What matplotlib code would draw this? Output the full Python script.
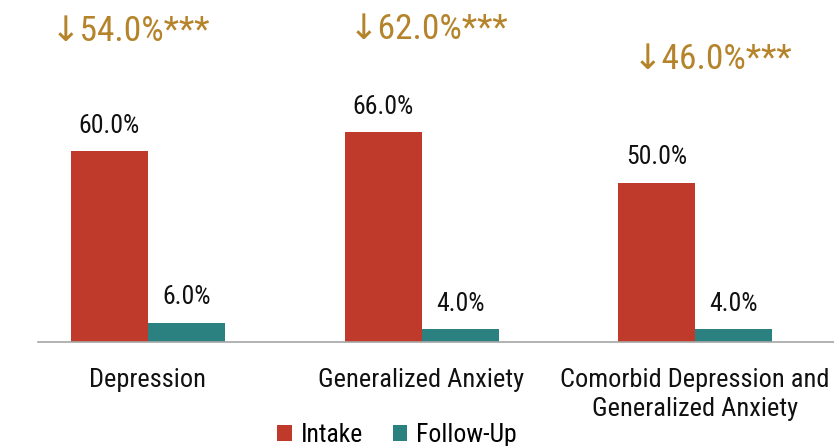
import matplotlib
matplotlib.use("Agg")
import matplotlib.pyplot as plt
from matplotlib import font_manager
import numpy as np

categories = ["Depression", "Generalized Anxiety", "Comorbid Depression and\nGeneralized Anxiety"]
intake = [60.0, 66.0, 50.0]
follow_up = [6.0, 4.0, 4.0]
change_labels = ["\u219354.0%***", "\u219362.0%***", "\u219346.0%***"]
series_names = ["Intake", "Follow-Up"]

names = {f.name for f in font_manager.fontManager.ttflist}
fam = "Roboto Condensed" if "Roboto Condensed" in names else "Roboto"
plt.rcParams['font.family'] = [fam, 'DejaVu Sans']

red = "#C03A2C"
teal = "#2B8080"
gold = "#B5832A"

fig = plt.figure(figsize=(8.34, 4.46), dpi=100)
ax = fig.add_axes([38/834, (446-342)/446, 1-38/834, 342/446])

x = np.arange(len(categories))
w = 0.2815
b1 = ax.bar(x - w/2, intake, w, color=red, label=series_names[0])
b2 = ax.bar(x + w/2, follow_up, w, color=teal, label=series_names[1])

for rect, v in zip(b1, intake):
    ax.text(rect.get_x() + rect.get_width()/2, v + 8.0, f"{v:.1f}%", ha="center", va="center", fontsize=18.5, color="#111111")
for rect, v in zip(b2, follow_up):
    ax.text(rect.get_x() + rect.get_width()/2, v + 8.0, f"{v:.1f}%", ha="center", va="center", fontsize=18.5, color="#111111")

ann_x = [-0.065, 1.025, 2.065]
ann_y = [97.5, 98.1, 88.8]
for xi, yi, s in zip(ann_x, ann_y, change_labels):
    ax.text(xi, yi, s, ha="center", va="center", fontsize=25.5, color=gold)

ax.set_xlim(-0.402, 2.508)
ax.set_ylim(0, 107.5)
ax.set_yticks([])
ax.set_xticks(x)
ax.set_xticklabels(categories, fontsize=19, color="#111111", linespacing=1.22)
ax.tick_params(axis="x", length=0, pad=19)
for s in ["top", "right", "left"]:
    ax.spines[s].set_visible(False)
ax.spines["bottom"].set_color("#A6A6A6")
ax.spines["bottom"].set_linewidth(1.2)

fig.legend(handles=[b1, b2], labels=series_names, loc="center", bbox_to_anchor=(0.476, 11/446), ncol=2,
           frameon=False, fontsize=18.5, handlelength=0.58, handleheight=0.58, handletextpad=0.35, columnspacing=1.15,
           borderaxespad=0)

fig.savefig("out.png", dpi=100)
